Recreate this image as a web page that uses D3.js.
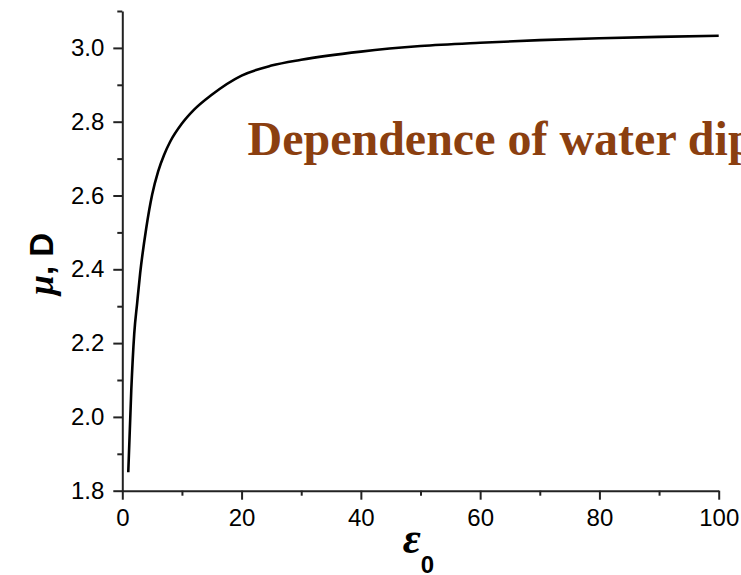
<!DOCTYPE html>
<html>
<head>
<meta charset="utf-8">
<script src="https://cdn.jsdelivr.net/npm/d3@7"></script>
<style>
html,body{margin:0;padding:0;background:#fff;}
svg{display:block;}
</style>
</head>
<body>
<svg id="chart" width="741" height="575"></svg>
<script>
// Data
const epsilon = [1, 1.5, 2, 2.5, 3, 4, 5, 6, 7, 8, 10, 12, 15, 20, 25, 30, 40, 50, 60, 70, 80, 90, 100];
const mu      = [1.85, 2.07, 2.225, 2.31, 2.39, 2.51, 2.602, 2.665, 2.71, 2.745, 2.795, 2.832, 2.873, 2.925, 2.952, 2.968, 2.99, 3.005, 3.014, 3.021, 3.026, 3.030, 3.033];
const xMajorTicks = [0, 20, 40, 60, 80, 100];
const xMinorTicks = [10, 30, 50, 70, 90];
const yMajorTicks = [1.8, 2.0, 2.2, 2.4, 2.6, 2.8, 3.0];
const yMinorTicks = [1.9, 2.1, 2.3, 2.5, 2.7, 2.9, 3.1];
const titleText = "Dependence of water dipole moment";

const svg = d3.select("#chart");
const x = d3.scaleLinear().domain([0, 100]).range([122.3, 718.7]);
const y = d3.scaleLinear().domain([1.8, 3.1]).range([490.7, 11]);

const axisColor = "#222";
const tickFont = "'Liberation Sans', Arial, sans-serif";

// X axis
const gx = svg.append("g").attr("transform", `translate(0,${y(1.8)})`);
gx.call(d3.axisBottom(x).tickValues(xMajorTicks).tickFormat(d3.format("d"))
  .tickSize(9).tickSizeOuter(0).tickPadding(9));
gx.append("g").call(d3.axisBottom(x).tickValues(xMinorTicks).tickFormat("")
  .tickSize(5).tickSizeOuter(0)).select(".domain").remove();

// Y axis
const gy = svg.append("g").attr("transform", `translate(${x(0)},0)`);
gy.call(d3.axisLeft(y).tickValues(yMajorTicks).tickFormat(d3.format(".1f"))
  .tickSize(9).tickSizeOuter(0).tickPadding(9));
gy.append("g").call(d3.axisLeft(y).tickValues(yMinorTicks).tickFormat("")
  .tickSize(5).tickSizeOuter(0)).select(".domain").remove();

svg.selectAll(".domain, .tick line").attr("stroke", axisColor).attr("stroke-width", 2);
svg.selectAll(".tick text").attr("font-family", tickFont).attr("font-size", 24).attr("fill", "#000");

// Curve
const line = d3.line()
  .x((d, i) => x(epsilon[i]))
  .y(d => y(d))
  .curve(d3.curveMonotoneX);
svg.append("path")
  .datum(mu)
  .attr("d", line)
  .attr("fill", "none")
  .attr("stroke", "#000")
  .attr("stroke-width", 2.6)
  .attr("stroke-linejoin", "round");

// Y label
const yl = svg.append("text")
  .attr("transform", "translate(53,264) rotate(-90)")
  .attr("text-anchor", "middle")
  .attr("font-family", tickFont)
  .attr("font-weight", "bold")
  .attr("font-size", 33)
  .attr("fill", "#000");
yl.append("tspan").attr("font-style", "italic").attr("font-family", "'Liberation Serif', serif").attr("font-size", 36).text("μ");
yl.append("tspan").text(", D");

// X label
const xl = svg.append("text")
  .attr("x", x(50) - 2)
  .attr("y", 553)
  .attr("text-anchor", "middle")
  .attr("font-weight", "bold")
  .attr("fill", "#000");
xl.append("tspan").attr("font-family", "'Liberation Serif', serif").attr("font-style", "italic").attr("font-size", 44).text("ε");
xl.append("tspan").attr("font-family", tickFont).attr("font-size", 24).attr("dy", 20).text("0");

// Title overlay
svg.append("text")
  .attr("x", 247.5)
  .attr("y", 155)
  .attr("font-family", "'Liberation Serif', 'Times New Roman', serif")
  .attr("font-weight", "bold")
  .attr("font-size", 48)
  .attr("fill", "#8b3f10")
  .text(titleText);
</script>
</body>
</html>
